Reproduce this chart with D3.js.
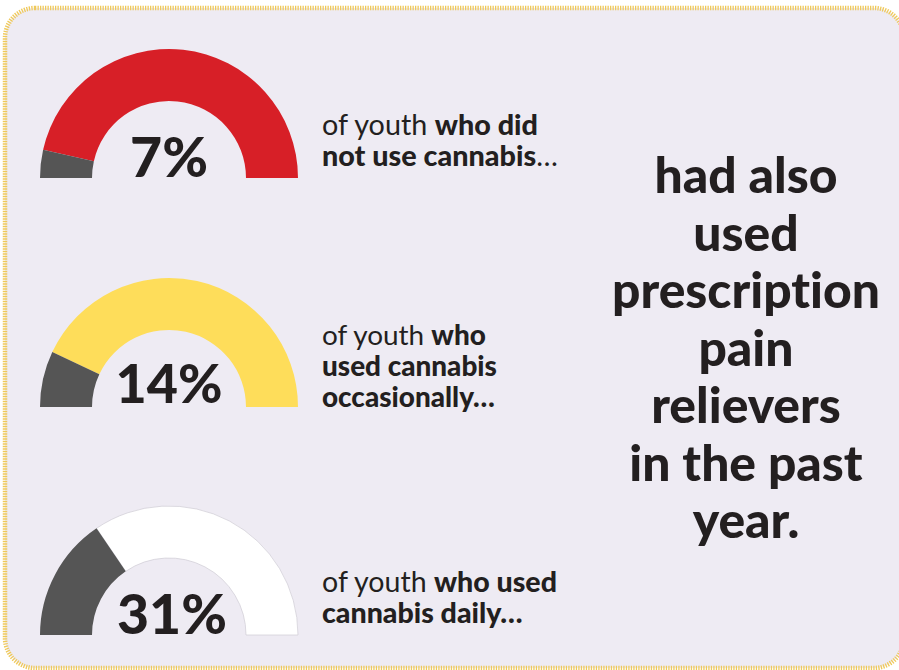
<!DOCTYPE html>
<html>
<head>
<meta charset="utf-8">
<script src="https://cdn.jsdelivr.net/npm/d3@7"></script>
<style>
  html, body { margin: 0; padding: 0; background: #ffffff; }
  svg { display: block; }
  text { font-variant-ligatures: none; font-feature-settings: "liga" 0, "clig" 0; }
</style>
</head>
<body>
<svg id="chart" width="899" height="670"></svg>
<script>
// Share of youth who also used prescription pain relievers, by cannabis use
const groups = ["did not use cannabis", "used cannabis occasionally", "used cannabis daily"];
const shares = [7, 14, 31];
const gaugeColors = ["#d71f27", "#fedd5a", "#ffffff"];
const usedColor = "#555555";

// Caption beside each gauge: lines of [text, bold?] segments
const captions = [
  [[["of youth ", false], ["who did", true]],
   [["not use cannabis", true], ["…", false]]],
  [[["of youth ", false], ["who", true]],
   [["used cannabis", true]],
   [["occasionally…", true]]],
  [[["of youth ", false], ["who used", true]],
   [["cannabis daily…", true]]]
];
const summaryLines = ["had also", "used", "prescription", "pain", "relievers", "in the past", "year."];

const svg = d3.select("#chart");
const font = "Lato, 'Open Sans', sans-serif";
const ink = "#231f20";

// Panel background with dotted golden border
svg.append("rect")
  .attr("x", 5).attr("y", 8)
  .attr("width", 899).attr("height", 660)
  .attr("rx", 30).attr("ry", 30)
  .attr("fill", "#eeebf3")
  .attr("stroke", "#efc95a")
  .attr("stroke-width", 4.5)
  .attr("stroke-dasharray", "1.3 1.2");

// Half-donut gauges
const angle = d3.scaleLinear().domain([0, 100]).range([-Math.PI / 2, Math.PI / 2]);
const arc = d3.arc().innerRadius(77).outerRadius(129);
const cx = 169;
const baselines = [178, 407, 635];
const pctBaselines = [177, 403, 634];
const pctWidths = [78, 107, 110];

// Fit a text element's font size to a target width
function fitWidth(sel, target, start) {
  sel.attr("font-size", start);
  const w = sel.node().getComputedTextLength();
  const size = start * target / w;
  sel.attr("font-size", size);
  return size;
}

groups.forEach((g, i) => {
  const gg = svg.append("g").attr("class", "gauge")
    .attr("transform", `translate(${cx},${baselines[i]})`);
  gg.append("path")
    .attr("d", arc({ startAngle: angle(shares[i]), endAngle: angle(100) }))
    .attr("fill", gaugeColors[i])
    .attr("stroke", i === 2 ? "#cfcbd4" : "none")
    .attr("stroke-width", 0.7);
  gg.append("path")
    .attr("d", arc({ startAngle: angle(0), endAngle: angle(shares[i]) }))
    .attr("fill", usedColor);

  const pct = svg.append("text")
    .attr("x", cx + (i === 2 ? 3 : 0)).attr("y", pctBaselines[i])
    .attr("text-anchor", "middle")
    .attr("font-family", font).attr("font-weight", 900)
    .attr("fill", ink)
    .text(shares[i] + "%");
  fitWidth(pct, pctWidths[i], 48);
});

// Captions
const captionTops = [135, 345, 592];
const captionLead = 31;
const captionFirstWidths = [216, 164, 235];
captions.forEach((lines, i) => {
  const t = svg.append("text")
    .attr("font-family", font)
    .attr("fill", ink);
  lines.forEach((segs, j) => {
    segs.forEach((s, k) => {
      const ts = t.append("tspan")
        .attr("font-weight", s[1] ? 900 : 400)
        .text(s[0]);
      if (k === 0) ts.attr("x", 322).attr("y", captionTops[i] + j * captionLead);
    });
  });
  // size by the first line width
  t.attr("font-size", 22);
  const first = t.selectAll("tspan").nodes().slice(0, lines[0].length);
  const w = d3.sum(first, n => n.getComputedTextLength());
  t.attr("font-size", 22 * captionFirstWidths[i] / w);
});

// Summary statement on the right
const sum = svg.append("text")
  .attr("font-family", font).attr("font-weight", 900)
  .attr("fill", ink)
  .attr("text-anchor", "middle");
summaryLines.forEach((l, j) => {
  sum.append("tspan").attr("x", 746).attr("y", 193 + j * 57.5).text(l);
});
sum.attr("font-size", 44);
const pr = sum.selectAll("tspan").nodes()[2];
const pw = pr.getComputedTextLength();
sum.attr("font-size", 44 * 268 / pw);
</script>
</body>
</html>
